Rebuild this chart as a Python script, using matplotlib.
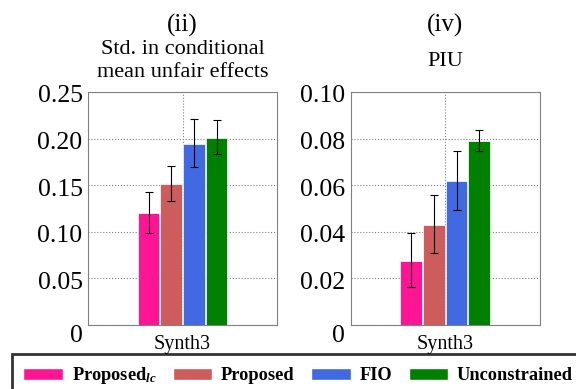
import matplotlib.pyplot as plt
import matplotlib.transforms as mtransforms
import numpy as np
from matplotlib.patches import Patch

plt.rcParams['font.family'] = ['Liberation Serif', 'DejaVu Serif']
plt.rcParams['mathtext.fontset'] = 'custom'
plt.rcParams['mathtext.rm'] = 'Liberation Serif'
plt.rcParams['mathtext.it'] = 'Liberation Serif:italic:bold'
plt.rcParams['mathtext.bf'] = 'Liberation Serif:bold'

methods = ['Proposed$_{lc}$', 'Proposed', 'FIO', 'Unconstrained']
colors = ['deeppink', 'indianred', 'royalblue', 'green']

# (ii) std in conditional mean unfair effects
std_vals = [0.120, 0.151, 0.194, 0.201]
std_lo = [0.099, 0.133, 0.169, 0.184]
std_hi = [0.143, 0.171, 0.221, 0.220]

# (iv) PIU
piu_vals = [0.0275, 0.043, 0.062, 0.079]
piu_lo = [0.0165, 0.031, 0.0495, 0.0745]
piu_hi = [0.0395, 0.056, 0.0745, 0.0835]

fig = plt.figure(figsize=(5.76, 3.89), dpi=100)
ax1 = fig.add_axes([0.153, 0.1645, 0.328, 0.599])
ax2 = fig.add_axes([0.609, 0.1645, 0.328, 0.599])

w = 0.12
xs = (np.arange(4) - 1.5) * w

def draw(ax, vals, lo, hi, ymax, yticks, ylabels):
    err = [np.array(vals) - np.array(lo), np.array(hi) - np.array(vals)]
    ax.bar(xs, vals, width=w * 0.96, color=colors, edgecolor='white', linewidth=0.5, zorder=3)
    ax.errorbar(xs, vals, yerr=err, fmt='none', ecolor='black', elinewidth=0.8,
                capsize=3, capthick=0.8, zorder=4)
    ax.set_xlim(-0.5, 0.5)
    ax.set_ylim(0, ymax)
    ax.set_xticks([0])
    ax.set_xticklabels(['Synth3'], fontsize=14.5)
    ax.set_yticks(yticks)
    ax.set_yticklabels(ylabels, fontsize=18.5)
    ax.tick_params(length=0, pad=4)
    ax.tick_params(axis='x', pad=7)
    ax.grid(True, color='gray', linestyle=':', linewidth=0.8, zorder=0)
    for s in ax.spines.values():
        s.set_color('gray')
    # labels sit a little below their grid lines, the zero one more so
    for i, lab in enumerate(ax.get_yticklabels()):
        dy = -8 if i == 0 else -2
        off = mtransforms.ScaledTranslation(0, dy / 100, fig.dpi_scale_trans)
        lab.set_transform(lab.get_transform() + off)

draw(ax1, std_vals, std_lo, std_hi, 0.25,
     [0, 0.05, 0.10, 0.15, 0.20, 0.25], ['0', '0.05', '0.10', '0.15', '0.20', '0.25'])
draw(ax2, piu_vals, piu_lo, piu_hi, 0.10,
     [0, 0.02, 0.04, 0.06, 0.08, 0.10], ['0', '0.02', '0.04', '0.06', '0.08', '0.10'])

ax1.text(0.5, 1.0 + 67 / 233, '(ii)', transform=ax1.transAxes, ha='center', va='center', fontsize=18)
ax1.text(0.5, 1.0 + 31 / 233, 'Std. in conditional\nmean unfair effects', transform=ax1.transAxes,
         ha='center', va='center', fontsize=16, linespacing=1.3)
ax2.text(0.5, 1.0 + 67 / 233, '(iv)', transform=ax2.transAxes, ha='center', va='center', fontsize=18)
ax2.text(0.5, 1.0 + 30 / 233, 'PIU', transform=ax2.transAxes, ha='center', va='center', fontsize=16)

handles = [Patch(facecolor=c, edgecolor='white') for c in colors]
leg = fig.legend(handles, methods, loc='upper left', bbox_to_anchor=(12 / 576, 1 - 354 / 389),
                 ncol=4, frameon=True, fancybox=False, handlelength=2.15, handleheight=0.64,
                 columnspacing=0.9, handletextpad=0.48, borderpad=0.62, borderaxespad=0,
                 prop={'weight': 'bold', 'size': 13.2})
leg.get_frame().set_edgecolor('black')
leg.get_frame().set_linewidth(2)

fig.savefig('out.png', dpi=100)
